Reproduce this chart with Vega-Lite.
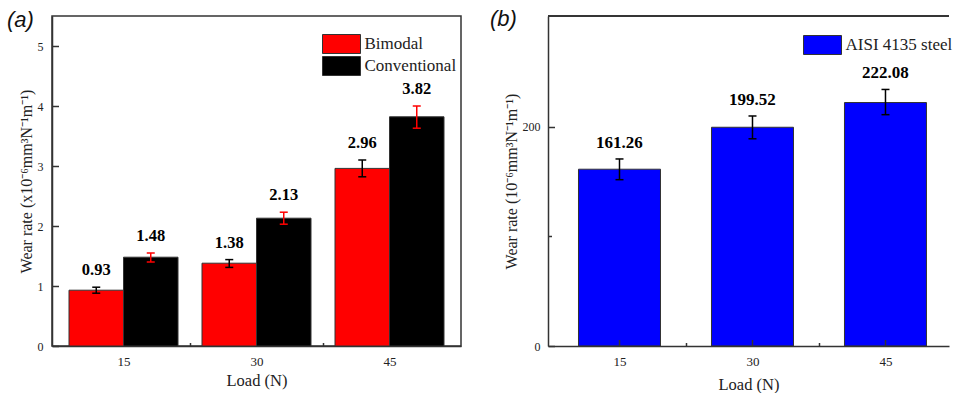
{
  "$schema": "https://vega.github.io/schema/vega-lite/v6.json",
  "background": "white",
  "padding": {"left": 6, "top": 8, "right": 0, "bottom": 0},
  "config": {
    "font": "Liberation Serif",
    "axis": {"grid": false, "domainColor": "#333", "domainWidth": 1.5, "tickColor": "#333", "tickWidth": 1.5, "labelColor": "#222", "titleColor": "#222", "titleFontWeight": "normal", "labelFont": "Liberation Serif", "titleFont": "Liberation Serif"},
    "legend": {"labelFont": "Liberation Serif", "labelFontSize": 17, "labelColor": "#222"}
  },
  "resolve": {"scale": {"color": "independent"}, "legend": {"color": "independent"}},
  "spacing": 28,
  "hconcat": [
    {
      "width": 409,
      "height": 330,
      "title": {"text": "(a)", "font": "Liberation Sans", "fontSize": 22, "fontStyle": "italic", "fontWeight": "normal", "anchor": "start", "frame": "group", "orient": "top", "offset": -33, "dx": -45, "baseline": "alphabetic", "color": "#111"},
      "view": {"stroke": "#333", "strokeWidth": 1.5},
      "data": {"values": [
        {"load": 15, "group": "Bimodal", "value": 0.93, "lo": 0.88, "hi": 0.98},
        {"load": 15, "group": "Conventional", "value": 1.48, "lo": 1.40, "hi": 1.55},
        {"load": 30, "group": "Bimodal", "value": 1.38, "lo": 1.31, "hi": 1.44},
        {"load": 30, "group": "Conventional", "value": 2.13, "lo": 2.03, "hi": 2.23},
        {"load": 45, "group": "Bimodal", "value": 2.96, "lo": 2.82, "hi": 3.10},
        {"load": 45, "group": "Conventional", "value": 3.82, "lo": 3.63, "hi": 4.00}
      ]},
      "encoding": {
        "x": {"field": "load", "type": "quantitative", "scale": {"domain": [7.5, 52.5], "nice": false, "zero": false},
          "axis": {"title": "Load (N)", "values": [15, 22.5, 30, 37.5, 45], "labelExpr": "datum.value % 15 === 0 ? format(datum.value, 'd') : ''",
            "tickSize": {"condition": {"test": "datum.value % 15 !== 0", "value": -3.5}, "value": -6.5},
            "labelFont": "Liberation Serif", "titleFont": "Liberation Serif",
            "labelFontSize": 13, "labelPadding": 15.5, "titleFontSize": 16.5, "titlePadding": 4}}
      },
      "layer": [
        {
          "transform": [{"filter": "datum.group === 'Bimodal'"}],
          "mark": {"type": "bar", "size": 54.5, "xOffset": -27.25, "stroke": "#333", "strokeWidth": 1},
          "encoding": {
            "y": {"field": "value", "type": "quantitative", "scale": {"domain": [0, 5.5], "nice": false},
              "axis": {"title": "Wear rate (x10⁻⁶mm³N⁻¹m⁻¹)", "values": [0, 0.5, 1, 1.5, 2, 2.5, 3, 3.5, 4, 4.5, 5],
                "labelExpr": "datum.value % 1 === 0 ? format(datum.value, 'd') : ''",
                "tickSize": {"condition": {"test": "datum.value % 1 !== 0", "value": -3.5}, "value": -6.5},
                "labelFont": "Liberation Serif", "titleFont": "Liberation Serif",
                "labelFontSize": 12, "labelPadding": 15.5, "titleFontSize": 16, "titlePadding": 3}},
            "color": {"field": "group", "type": "nominal", "scale": {"domain": ["Bimodal", "Conventional"], "range": ["#ff0000", "#000000"]},
              "legend": {"title": null, "orient": "none", "legendX": 270, "legendY": 18, "symbolType": "M-2,-1H2V1H-2Z", "symbolSize": 361, "symbolOffset": 9.5, "labelOffset": 13, "symbolStrokeColor": "#333", "symbolStrokeWidth": 1, "symbolOpacity": 1, "rowPadding": -5, "padding": 0}}
          }
        },
        {
          "transform": [{"filter": "datum.group === 'Conventional'"}],
          "mark": {"type": "bar", "size": 54.5, "xOffset": 27.25, "stroke": "#333", "strokeWidth": 1},
          "encoding": {
            "y": {"field": "value", "type": "quantitative"},
            "color": {"field": "group", "type": "nominal"}
          }
        },
        {
          "transform": [{"filter": "datum.group === 'Bimodal'"}],
          "mark": {"type": "rule", "xOffset": -27.25, "strokeWidth": 1.5, "color": "#000"},
          "encoding": {"y": {"field": "lo", "type": "quantitative"}, "y2": {"field": "hi"}}
        },
        {
          "transform": [{"filter": "datum.group === 'Bimodal'"}],
          "mark": {"type": "tick", "orient": "horizontal", "xOffset": -27.25, "size": 8, "thickness": 1.5, "color": "#000", "opacity": 1},
          "encoding": {"y": {"field": "lo", "type": "quantitative"}}
        },
        {
          "transform": [{"filter": "datum.group === 'Bimodal'"}],
          "mark": {"type": "tick", "orient": "horizontal", "xOffset": -27.25, "size": 8, "thickness": 1.5, "color": "#000", "opacity": 1},
          "encoding": {"y": {"field": "hi", "type": "quantitative"}}
        },
        {
          "transform": [{"filter": "datum.group === 'Conventional'"}],
          "mark": {"type": "rule", "xOffset": 27.25, "strokeWidth": 1.5, "color": "#ff0000"},
          "encoding": {"y": {"field": "lo", "type": "quantitative"}, "y2": {"field": "hi"}}
        },
        {
          "transform": [{"filter": "datum.group === 'Conventional'"}],
          "mark": {"type": "tick", "orient": "horizontal", "xOffset": 27.25, "size": 8, "thickness": 1.5, "color": "#ff0000", "opacity": 1},
          "encoding": {"y": {"field": "lo", "type": "quantitative"}}
        },
        {
          "transform": [{"filter": "datum.group === 'Conventional'"}],
          "mark": {"type": "tick", "orient": "horizontal", "xOffset": 27.25, "size": 8, "thickness": 1.5, "color": "#ff0000", "opacity": 1},
          "encoding": {"y": {"field": "hi", "type": "quantitative"}}
        },
        {
          "transform": [{"filter": "datum.group === 'Bimodal'"}],
          "mark": {"type": "text", "xOffset": -27.25, "dy": -12, "baseline": "alphabetic", "font": "Liberation Serif", "fontSize": 16.5, "fontWeight": "bold", "color": "#000"},
          "encoding": {"y": {"field": "hi", "type": "quantitative"}, "text": {"field": "value", "type": "quantitative", "format": ".2f"}}
        },
        {
          "transform": [{"filter": "datum.group === 'Conventional'"}],
          "mark": {"type": "text", "xOffset": 27.25, "dy": -12, "baseline": "alphabetic", "font": "Liberation Serif", "fontSize": 16.5, "fontWeight": "bold", "color": "#000"},
          "encoding": {"y": {"field": "hi", "type": "quantitative"}, "text": {"field": "value", "type": "quantitative", "format": ".2f"}}
        }
      ]
    },
    {
      "width": 401,
      "height": 330,
      "title": {"text": "(b)", "font": "Liberation Sans", "fontSize": 22, "fontStyle": "italic", "fontWeight": "normal", "anchor": "start", "frame": "group", "orient": "top", "offset": -33, "dx": -58, "baseline": "alphabetic", "color": "#111"},
      "view": {"stroke": null},
      "data": {"values": [
        {"load": 15, "material": "AISI 4135 steel", "value": 161.26, "lo": 151.7, "hi": 170.6},
        {"load": 30, "material": "AISI 4135 steel", "value": 199.52, "lo": 189.0, "hi": 209.8},
        {"load": 45, "material": "AISI 4135 steel", "value": 222.08, "lo": 211.0, "hi": 234.0}
      ]},
      "layer": [
        {
          "mark": {"type": "bar", "size": 82, "stroke": "#333", "strokeWidth": 1},
          "encoding": {
            "x": {"field": "load", "type": "quantitative", "scale": {"domain": [7.5, 51.6], "nice": false, "zero": false},
              "axis": {"title": "Load (N)", "zindex": 1, "values": [15, 22.5, 30, 37.5, 45], "labelExpr": "datum.value % 15 === 0 ? format(datum.value, 'd') : ''",
                "tickSize": {"condition": {"test": "datum.value % 15 !== 0", "value": -3.5}, "value": -6.5},
                "labelFont": "Liberation Serif", "titleFont": "Liberation Serif",
                "labelFontSize": 13, "labelPadding": 15.5, "titleFontSize": 16.5, "titlePadding": 8}},
            "y": {"field": "value", "type": "quantitative", "scale": {"domain": [0, 301], "nice": false},
              "axis": {"title": "Wear rate (10⁻⁶mm³N⁻¹m⁻¹)", "zindex": 1, "values": [0, 100, 200],
                "labelExpr": "datum.value % 200 === 0 ? format(datum.value, 'd') : ''",
                "tickSize": {"condition": {"test": "datum.value % 200 !== 0", "value": -3.5}, "value": -6.5},
                "labelFont": "Liberation Serif", "titleFont": "Liberation Serif",
                "labelFontSize": 12, "labelPadding": 14.5, "titleFontSize": 16, "titlePadding": 3}},
            "color": {"field": "material", "type": "nominal", "scale": {"domain": ["AISI 4135 steel"], "range": ["#0000ff"]},
              "legend": {"title": null, "orient": "none", "legendX": 255, "legendY": 19, "symbolType": "M-2,-1H2V1H-2Z", "symbolSize": 361, "symbolOffset": 9.5, "labelOffset": 13, "symbolStrokeColor": "#333", "symbolStrokeWidth": 1, "symbolOpacity": 1, "padding": 0}}
          }
        },
        {
          "mark": {"type": "rule", "strokeWidth": 1.5, "color": "#000"},
          "encoding": {"x": {"field": "load", "type": "quantitative"}, "y": {"field": "lo", "type": "quantitative"}, "y2": {"field": "hi"}}
        },
        {
          "mark": {"type": "tick", "orient": "horizontal", "size": 8, "thickness": 1.5, "color": "#000", "opacity": 1},
          "encoding": {"x": {"field": "load", "type": "quantitative"}, "y": {"field": "lo", "type": "quantitative"}}
        },
        {
          "mark": {"type": "tick", "orient": "horizontal", "size": 8, "thickness": 1.5, "color": "#000", "opacity": 1},
          "encoding": {"x": {"field": "load", "type": "quantitative"}, "y": {"field": "hi", "type": "quantitative"}}
        },
        {
          "mark": {"type": "text", "dy": -11, "baseline": "alphabetic", "font": "Liberation Serif", "fontSize": 17, "fontWeight": "bold", "color": "#000"},
          "encoding": {"x": {"field": "load", "type": "quantitative"}, "y": {"field": "hi", "type": "quantitative"}, "text": {"field": "value", "type": "quantitative", "format": ".2f"}}
        },
        {
          "mark": {"type": "rule", "strokeWidth": 1.5, "color": "#333"},
          "encoding": {"y": {"datum": 301}}
        }
      ]
    }
  ]
}
